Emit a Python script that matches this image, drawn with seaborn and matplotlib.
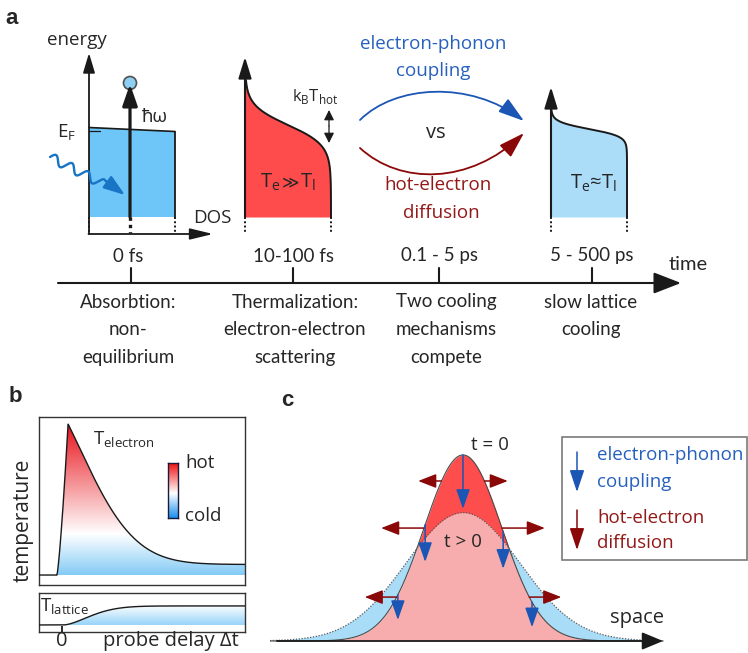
import numpy as np
import matplotlib
matplotlib.use("Agg")
import matplotlib.pyplot as plt
import seaborn as sns
from matplotlib.patches import FancyArrowPatch, Rectangle, Circle, Polygon
from matplotlib.path import Path
from matplotlib.colors import LinearSegmentedColormap

# ---------------- data ----------------
# panel a: time line
stage_times = ["0 fs", "10-100 fs", "0.1 - 5 ps", "5 - 500 ps"]
stage_lines = [["Absorbtion:", "non-", "equilibrium"],
               ["Thermalization:", "electron-electron", "scattering"],
               ["Two cooling", "mechanisms", "compete"],
               ["slow lattice", "cooling"]]
# panel a: Fermi edges of the hot and of the cooled electron distribution (edge, smearing)
hot_edge, hot_kT = 125.0, 10.0
cool_edge, cool_kT = 129.0, 3.7

# panel b: normalised electron temperature
Te_rise_start, Te_peak_time = -0.5, 0.58
Te_peak, Te_final = 1.0, 0.07
Te_decay_lin, Te_decay_quad = 0.149, 0.018
# panel b: normalised lattice temperature
Tl_start, Tl_final, Tl_tau, Tl_shape = 0.1, 1.0, 3.46, 1.7

# panel c: hot spot at t = 0 and t > 0
amp_t0, sig_t0 = 1.0, 1.0
amp_t1, sig_t1 = 0.69, 1.46
ep_arrow_x = [0.0, -0.97, 1.03, -1.67, 1.77]
ep_arrow_len = [0.29, 0.20, 0.20, 0.135, 0.135]
diff_levels = [0.86, 0.607, 0.236]
diff_len = [0.6, 1.1, 0.82]

# ---------------- style ----------------
sns.set_theme(style="white")
plt.rcParams['font.family'] = ['Open Sans', 'DejaVu Sans']
BLUE_T = '#2660bf'
BLUE_A = '#1b56b5'
RED_T = '#931818'
RED_A = '#8a0808'
FS = 13.5
NARROW = ['Lato', 'DejaVu Sans']

fig = plt.figure(figsize=(7.48, 6.53), dpi=100)

ov = fig.add_axes([0, 0, 1, 1])
ov.set_xlim(0, 748)
ov.set_ylim(653, 0)
ov.axis('off')
ov.set_zorder(10)
ov.patch.set_alpha(0)


def arrow(ax, p0, p1, color='k', lw=1.2, hl=1.2, hw=0.36, ms=10, z=3, style='-|>'):
    ax.annotate('', xy=p1, xytext=p0,
                arrowprops=dict(arrowstyle=f'{style},head_length={hl},head_width={hw}',
                                color=color, lw=lw, mutation_scale=ms,
                                shrinkA=0, shrinkB=0), zorder=z)


# ================= panel a =================
ov.text(12, 19, 'a', fontsize=16, fontweight='bold', ha='center', va='center',
        family=['Liberation Sans', 'DejaVu Sans'])

# --- absorption DOS ---
ov.add_patch(Polygon([(89, 127.5), (175, 131.5), (175, 217), (89, 217)], closed=True,
                     fc='#6ec6f8', ec='none', zorder=1))
ov.plot([89, 175], [127.5, 131.5], color='k', lw=1.2, zorder=2)
ov.plot([175, 175], [131.5, 217], color='k', lw=1.3, zorder=2)
ov.plot([89, 100], [131, 131], color='k', lw=0.9, zorder=2)
for xd, lwd in [(89, 1.4), (130, 2.4), (175, 1.4)]:
    ov.plot([xd, xd], [217, 233], color='k', lw=lwd, ls=(0, (1, 1.2)), zorder=2)
arrow(ov, (89, 234), (89, 53), lw=1.3, hl=1.2, hw=0.36)
arrow(ov, (88.5, 234), (213, 234), lw=1.3, hl=1.4, hw=0.34)
ov.add_patch(Circle((130, 83), 6.5, fc='#8dd0f4', ec='#505050', lw=1.2, zorder=2))
arrow(ov, (130, 217), (130, 84), lw=2.3, hl=1.3, hw=0.45, z=4)
ov.text(77, 40, 'energy', fontsize=FS, ha='center', va='center')
ov.text(212, 218, 'DOS', fontsize=FS, ha='center', va='center')
ov.text(155, 117, 'ħω', fontsize=FS, ha='center', va='center')
ov.text(67, 133, r'E$_\mathregular{F}$', fontsize=FS, ha='center', va='center')

# wavy photon
start = np.array([50.0, 157.0])
end = np.array([125.0, 195.0])
u = (end - start) / np.hypot(*(end - start))
nrm = np.array([u[1], -u[0]])
s = np.linspace(0, 60, 240)
wave = start + s[:, None] * u + (4.5 * np.sin(2 * np.pi * s / 18.0))[:, None] * nrm
pts = np.vstack([wave, end])
ov.add_patch(FancyArrowPatch(path=Path(pts), arrowstyle='-|>,head_length=1.3,head_width=0.45',
                             mutation_scale=10, color='#1874c4', lw=1.7, zorder=3))

# --- hot distribution (10-100 fs) ---
yE = np.linspace(80, 217, 400)
occ_hot = 1.0 / (1.0 + np.exp((hot_edge - yE) / hot_kT))
x_hot = 245 + 86 * occ_hot
ov.fill_betweenx(yE, 245, x_hot, color='#fe4b4b', lw=0, zorder=1)
ov.plot(x_hot, yE, color='k', lw=1.4, zorder=2)
arrow(ov, (245, 217), (245, 57), lw=1.5, hl=1.3, hw=0.4)
for xd in (245, 331):
    ov.plot([xd, xd], [217, 233], color='k', lw=1.4, ls=(0, (1, 1.2)), zorder=2)
ov.text(280, 182, r'T$_\mathregular{e}$', fontsize=FS + 1, ha='right', va='center')
ov.text(290, 182, '≫', fontsize=12, ha='center', va='center', family=['DejaVu Sans'])
ov.text(300, 182, r'T$_\mathregular{l}$', fontsize=FS + 1, ha='left', va='center')
ov.text(315, 97, r'k$_\mathregular{B}$T$_\mathregular{hot}$', fontsize=FS - 1.5, ha='center', va='center')
arrow(ov, (329, 126), (329, 110), lw=0.9, hl=0.6, hw=0.3)
arrow(ov, (329, 126), (329, 143), lw=0.9, hl=0.6, hw=0.3)

# --- competing mechanisms ---
p_blue = Path([(360, 120), (395, 85), (470, 80), (524, 121)],
              [Path.MOVETO, Path.CURVE4, Path.CURVE4, Path.CURVE4])
ov.add_patch(FancyArrowPatch(path=p_blue, arrowstyle='-|>,head_length=1.6,head_width=0.5',
                             mutation_scale=10, color=BLUE_A, lw=1.3, zorder=3))
p_red = Path([(360, 148), (400, 185), (470, 185), (524, 133)],
             [Path.MOVETO, Path.CURVE4, Path.CURVE4, Path.CURVE4])
ov.add_patch(FancyArrowPatch(path=p_red, arrowstyle='-|>,head_length=1.6,head_width=0.5',
                             mutation_scale=10, color=RED_A, lw=1.3, zorder=3))
ov.text(433, 44, 'electron-phonon', color=BLUE_T, fontsize=FS, ha='center', va='center')
ov.text(433, 71, 'coupling', color=BLUE_T, fontsize=FS, ha='center', va='center')
ov.text(436, 133, 'vs', fontsize=FS + 1, ha='center', va='center')
ov.text(438, 185, 'hot-electron', color=RED_T, fontsize=FS, ha='center', va='center')
ov.text(441, 213, 'diffusion', color=RED_T, fontsize=FS, ha='center', va='center')

# --- cooled distribution (5-500 ps) ---
yE2 = np.linspace(105, 217, 400)
occ_cool = 1.0 / (1.0 + np.exp((cool_edge - yE2) / cool_kT))
x_cool = 551 + 76 * occ_cool
ov.fill_betweenx(yE2, 551, x_cool, color='#abdcf8', lw=0, zorder=1)
ov.plot(x_cool, yE2, color='k', lw=1.4, zorder=2)
arrow(ov, (551, 217), (551, 87), lw=1.5, hl=1.3, hw=0.4)
for xd in (551, 627):
    ov.plot([xd, xd], [217, 233], color='k', lw=1.4, ls=(0, (1, 1.2)), zorder=2)
ov.text(593, 183, r'T$_\mathregular{e}$≈T$_\mathregular{l}$', fontsize=FS + 1, ha='center', va='center')

# --- time line ---
arrow(ov, (58, 283), (681, 283), lw=1.5, hl=0.85, hw=0.33, ms=20)
tick_x = [131, 293, 439, 592]
label_x = [128, 294, 440, 592]
desc_x = [128, 295, 446, 591]
for tx, lx, dx, tl, lines in zip(tick_x, label_x, desc_x, stage_times, stage_lines):
    ov.plot([tx, tx], [268, 283], color='k', lw=1.5)
    ov.text(lx, 256, tl, fontsize=FS, ha='center', va='center', family=NARROW)
    for k, line in enumerate(lines):
        ov.text(dx, 302 + 27.5 * k, line, fontsize=FS, ha='center', va='center', family=NARROW)
ov.text(688, 265, 'time', fontsize=FS + 1, ha='center', va='center', family=NARROW)

# ================= panel b =================
ov.text(15, 397, 'b', fontsize=16, fontweight='bold', ha='center', va='center',
        family=['Liberation Sans', 'DejaVu Sans'])
t_lo, t_hi = -2.23, 17.67
t = np.linspace(t_lo, t_hi, 1200)
Te = np.zeros_like(t)
rise = (t >= Te_rise_start) & (t <= Te_peak_time)
sr = (t[rise] - Te_rise_start) / (Te_peak_time - Te_rise_start)
Te[rise] = Te_peak * sr ** 1.3
after = t > Te_peak_time
d = t[after] - Te_peak_time
Te[after] = Te_final + (Te_peak - Te_final) * np.exp(-(Te_decay_lin * d + Te_decay_quad * d ** 2))

axb = fig.add_axes([39 / 748, 1 - 585 / 653, 206 / 748, 168 / 653])
cmap_e = LinearSegmentedColormap.from_list('te', [(0, '#84cbf6'), (0.27, '#ffffff'), (1.0, '#e8121a')])
grad = np.linspace(0, 1, 256).reshape(-1, 1)
im = axb.imshow(grad, extent=[Te_rise_start, t_hi, 0, 1], origin='lower', cmap=cmap_e,
                aspect='auto', zorder=1, interpolation='bilinear')
m = t >= Te_rise_start
clip = Polygon(np.column_stack([np.r_[t[m], t_hi, Te_rise_start], np.r_[Te[m], 0, 0]]),
               closed=True, fc='none', ec='none', transform=axb.transData)
axb.add_patch(clip)
im.set_clip_path(clip)
sns.lineplot(x=t, y=Te, ax=axb, color='k', lw=1.0, estimator=None, zorder=3)
axb.set_xlim(t_lo, t_hi)
axb.set_ylim(-0.066, 1.046)
axb.set_xticks([])
axb.set_yticks([])
axb.set_xlabel('')
axb.set_ylabel('')
for sp in axb.spines.values():
    sp.set_visible(True)
    sp.set_color('#333333')
    sp.set_linewidth(1.0)

Tl = np.where(t > Tl_start, Tl_final * (1 - np.exp(-np.clip((t - Tl_start) / Tl_tau, 0, None) ** Tl_shape)), 0)
axb2 = fig.add_axes([39 / 748, 1 - 632 / 653, 206 / 748, 39 / 653])
cmap_l = LinearSegmentedColormap.from_list('tl', [(0, '#96d3f8'), (1.0, '#ffffff')])
im2 = axb2.imshow(grad, extent=[Tl_start, t_hi, 0, 1], origin='lower', cmap=cmap_l,
                  aspect='auto', zorder=1, interpolation='bilinear')
m2 = t >= Tl_start
clip2 = Polygon(np.column_stack([np.r_[t[m2], t_hi, Tl_start], np.r_[Tl[m2], 0, 0]]),
                closed=True, fc='none', ec='none', transform=axb2.transData)
axb2.add_patch(clip2)
im2.set_clip_path(clip2)
sns.lineplot(x=t, y=Tl, ax=axb2, color='k', lw=1.0, estimator=None, zorder=3)
axb2.set_xlim(t_lo, t_hi)
axb2.set_ylim(-0.37, 1.68)
axb2.set_yticks([])
axb2.set_xticks([0])
axb2.tick_params(axis='x', direction='in', length=4, width=1.3, bottom=True, labelbottom=False, color='k')
axb2.set_xlabel('')
axb2.set_ylabel('')
for sp in axb2.spines.values():
    sp.set_visible(True)
    sp.set_color('#333333')
    sp.set_linewidth(1.0)

# colour bar
axcb = fig.add_axes([168 / 748, 1 - 518 / 653, 10 / 748, 55 / 653])
cmap_bar = LinearSegmentedColormap.from_list('bar', [(0, '#1a8ff0'), (0.45, '#ffffff'), (1.0, '#f01010')])
axcb.imshow(grad, extent=[0, 1, 0, 1], origin='lower', cmap=cmap_bar, aspect='auto')
axcb.set_xticks([])
axcb.set_yticks([])
for sp in axcb.spines.values():
    sp.set_visible(True)
    sp.set_color('#1a1a3a')
    sp.set_linewidth(1.0)

ov.text(93, 440, r'T$_\mathregular{electron}$', fontsize=FS, ha='left', va='center')
ov.text(185, 463, 'hot', fontsize=FS, ha='left', va='center')
ov.text(185, 516, 'cold', fontsize=FS, ha='left', va='center')
ov.text(23, 520, 'temperature', fontsize=15, ha='center', va='center', rotation=90)
ov.text(40, 607, r'T$_\mathregular{lattice}$', fontsize=FS, ha='left', va='center')
ov.text(62, 641, '0', fontsize=14.5, ha='center', va='center')
ov.text(171, 641, 'probe delay Δt', fontsize=14.5, ha='center', va='center')

# ================= panel c =================
ov.text(287, 400, 'c', fontsize=16, fontweight='bold', ha='center', va='center',
        family=['Liberation Sans', 'DejaVu Sans'])
axc = fig.add_axes([270 / 748, 0, 478 / 748, 263 / 653])
axc.set_xlim(-4.949, 7.308)
axc.set_ylim(-0.0645, 1.349)
axc.axis('off')
xs = np.linspace(-4.95, 5.13, 1500)
g0 = amp_t0 * np.exp(-xs ** 2 / (2 * sig_t0 ** 2))
g1 = amp_t1 * np.exp(-xs ** 2 / (2 * sig_t1 ** 2))
axc.fill_between(xs, 0, np.minimum(g0, g1), color='#f7adad', lw=0, zorder=1)
axc.fill_between(xs, g1, g0, where=g0 >= g1, interpolate=True, color='#fe4d4d', lw=0, zorder=1)
axc.fill_between(xs, g0, g1, where=g1 >= g0, interpolate=True, color='#a8dcf7', lw=0, zorder=1)
sns.lineplot(x=xs, y=g0, ax=axc, color='#4a4a4a', lw=0.8, estimator=None, zorder=2)
axc.plot(xs, g1, color='#5a5a5a', lw=0.9, ls=(0, (1, 1.3)), zorder=2)
arrow(axc, (-4.77, 0), (5.13, 0), lw=1.3, hl=0.65, hw=0.27, ms=20)

for xi, L in zip(ep_arrow_x, ep_arrow_len):
    y0 = amp_t0 * np.exp(-xi ** 2 / (2 * sig_t0 ** 2))
    arrow(axc, (xi, y0), (xi, y0 - L), color=BLUE_A, lw=1.1, hl=1.2, hw=0.42, z=5)
for lvl, L in zip(diff_levels, diff_len):
    xe = sig_t0 * np.sqrt(-2 * np.log(lvl / amp_t0))
    for sgn in (-1, 1):
        arrow(axc, (sgn * xe, lvl), (sgn * (xe + L), lvl), color=RED_A, lw=1.1, hl=1.1, hw=0.43, z=4)

ov.text(490, 445, 't = 0', fontsize=FS, ha='center', va='center')
ov.text(463, 542, 't > 0', fontsize=FS, ha='center', va='center')
ov.text(637, 618, 'space', fontsize=FS + 1, ha='center', va='center')

# legend box
ov.add_patch(Rectangle((562, 437), 185, 123, fc='white', ec='#7a7a7a', lw=1.2, zorder=2))
arrow(ov, (577, 452), (577, 492), color=BLUE_A, lw=1.1, hl=1.35, hw=0.45, z=3)
arrow(ov, (577, 510), (577, 550), color=RED_A, lw=1.1, hl=1.35, hw=0.45, z=3)
ov.text(597, 455, 'electron-phonon', color=BLUE_T, fontsize=FS, ha='left', va='center')
ov.text(597, 482, 'coupling', color=BLUE_T, fontsize=FS, ha='left', va='center')
ov.text(597, 518, 'hot-electron', color=RED_T, fontsize=FS, ha='left', va='center')
ov.text(597, 543, 'diffusion', color=RED_T, fontsize=FS, ha='left', va='center')

fig.savefig('out.png', dpi=100)
